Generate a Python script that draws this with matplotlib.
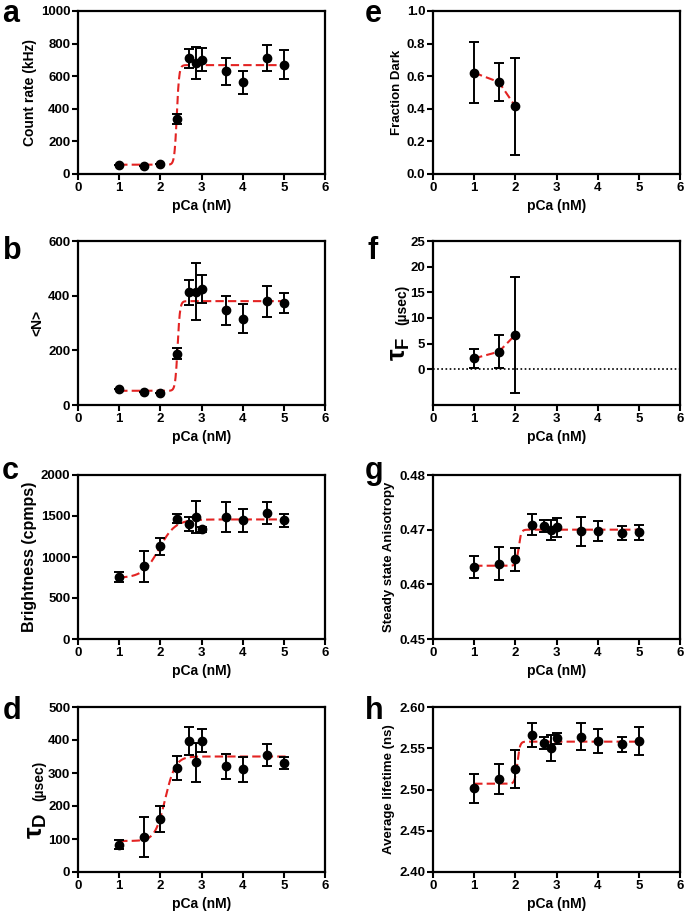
import numpy as np
import matplotlib
matplotlib.use('Agg')
import matplotlib.pyplot as plt
from matplotlib.ticker import FormatStrFormatter

plt.rcParams['font.family'] = ['Liberation Sans', 'DejaVu Sans']
plt.rcParams['font.weight'] = 'bold'
plt.rcParams['axes.labelweight'] = 'bold'
plt.rcParams['mathtext.fontset'] = 'custom'
plt.rcParams['mathtext.rm'] = 'Liberation Sans:bold'
plt.rcParams['mathtext.it'] = 'Liberation Sans:bold'
plt.rcParams['mathtext.bf'] = 'Liberation Sans:bold'

# pCa values
pca = [1.0, 1.6, 2.0, 2.4, 2.7, 2.87, 3.0, 3.6, 4.0, 4.6, 5.0]
pca_low = [1.0, 1.6, 2.0]

# a: count rate (kHz)
count_rate = [53, 49, 61, 339, 711, 683, 701, 630, 563, 711, 671]
count_rate_err = [0, 0, 0, 32, 58, 98, 71, 82, 70, 80, 87]
count_rate_fit = (57, 668, 2.40, 15)   # bottom, top, midpoint, hill

# b: <N>
n_mean = [60, 49, 44, 188, 412, 415, 424, 346, 316, 379, 373]
n_mean_err = [0, 0, 0, 21, 46, 103, 51, 53, 54, 57, 38]
n_mean_fit = (52, 380, 2.42, 15)

# c: brightness (cpmps)
brightness = [754, 885, 1131, 1467, 1398, 1488, 1336, 1488, 1447, 1533, 1447]
brightness_err = [62, 190, 105, 53, 85, 200, 35, 185, 137, 133, 82]
brightness_fit = (745, 1458, 1.97, 2.2)

# d: tau_D (usec)
tau_d = [83, 105, 160, 315, 398, 332, 398, 320, 311, 355, 329]
tau_d_err = [14, 61, 39, 37, 42, 60, 34, 39, 39, 33, 18]
tau_d_fit = (94, 350, 2.12, 3.5)

# e: fraction dark
frac_dark = [0.621, 0.564, 0.415]
frac_dark_err = [0.186, 0.116, 0.298]

# f: tau_F (usec)
tau_f = [2.1, 3.4, 6.7]
tau_f_err = [1.8, 3.2, 11.3]

# g: steady state anisotropy
anisotropy = [0.4631, 0.4638, 0.4646, 0.4709, 0.4706, 0.4700, 0.4704,
              0.4697, 0.4698, 0.4694, 0.4695]
anisotropy_err = [0.0020, 0.0030, 0.0021, 0.0019, 0.0011, 0.0018, 0.0018,
                  0.0026, 0.0018, 0.0013, 0.0013]
anisotropy_fit = (0.4634, 0.4700, 2.08, 14)

# h: average lifetime (ns)
lifetime = [2.5016, 2.513, 2.525, 2.5656, 2.5567, 2.550, 2.562, 2.564,
            2.5587, 2.555, 2.5587]
lifetime_err = [0.0175, 0.018, 0.023, 0.0146, 0.0073, 0.016, 0.0065,
                0.0166, 0.015, 0.009, 0.017]
lifetime_fit = (2.507, 2.558, 2.05, 14)

RED = '#e32322'
W, H = 685, 915


def sigmoid(x, p):
    bottom, top, x50, hill = p
    return bottom + (top - bottom) / (1 + 10 ** ((x50 - x) * hill))


def make_ax(left, top, right, bottom):
    return fig.add_axes([left / W, 1 - bottom / H, (right - left) / W, (bottom - top) / H])


def style(ax, ylim, yticks, ylabel, fmt=None, ysize=10):
    ax.set_xlim(0, 6)
    ax.set_xticks(range(7))
    ax.set_ylim(*ylim)
    ax.set_yticks(yticks)
    if fmt:
        ax.yaxis.set_major_formatter(FormatStrFormatter(fmt))
    for s in ax.spines.values():
        s.set_linewidth(1.6)
    ax.tick_params(width=1.5, length=4, labelsize=9.5, pad=1.5)
    for lab in ax.get_xticklabels() + ax.get_yticklabels():
        lab.set_fontweight('bold')
    ax.set_xlabel('pCa (nM)', fontsize=10, labelpad=4)
    if ylabel:
        ax.set_ylabel(ylabel, fontsize=ysize, labelpad=3)


def tau_label(ax, sub, x, y_tau, y_unit):
    # big tau with subscript, then smaller unit text on the same baseline
    ax.text(x, y_tau, r'$\tau_{\mathrm{%s}}$' % sub, transform=ax.transAxes,
            rotation=90, rotation_mode='anchor', fontsize=19,
            ha='left', va='baseline')
    ax.text(x, y_unit, '(µsec)', transform=ax.transAxes,
            rotation=90, rotation_mode='anchor', fontsize=10,
            ha='left', va='baseline')


def points(ax, x, y, err):
    ax.errorbar(x, y, yerr=err, fmt='o', color='black', ms=6,
                elinewidth=1.4, capsize=3.5, capthick=1.4, zorder=3)


def fit(ax, p):
    xs = np.linspace(1, 5.05, 400)
    ax.plot(xs, sigmoid(xs, p), '--', color=RED, lw=1.5, dashes=(4, 2), zorder=2)


fig = plt.figure(figsize=(6.85, 9.15), dpi=100)

rows = [(11, 174), (241, 405), (475, 639), (707, 872)]
lcol = (78, 325)
rcol = (433, 680)

# left column
ax = make_ax(lcol[0], rows[0][0], lcol[1], rows[0][1])
fit(ax, count_rate_fit)
points(ax, pca, count_rate, count_rate_err)
style(ax, (0, 1000), range(0, 1001, 200), 'Count rate (kHz)')

ax = make_ax(lcol[0], rows[1][0], lcol[1], rows[1][1])
fit(ax, n_mean_fit)
points(ax, pca, n_mean, n_mean_err)
style(ax, (0, 600), range(0, 601, 200), '<N>')

ax = make_ax(lcol[0], rows[2][0], lcol[1], rows[2][1])
fit(ax, brightness_fit)
points(ax, pca, brightness, brightness_err)
style(ax, (0, 2000), range(0, 2001, 500), 'Brightness (cpmps)', ysize=11.5)

ax = make_ax(lcol[0], rows[3][0], lcol[1], rows[3][1])
fit(ax, tau_d_fit)
points(ax, pca, tau_d, tau_d_err)
style(ax, (0, 500), range(0, 501, 100), None)
tau_label(ax, 'D', -0.142, 0.20, 0.43)

# right column
ax = make_ax(rcol[0], rows[0][0], rcol[1], rows[0][1])
ax.plot(pca_low, frac_dark, '--', color=RED, lw=1.5, dashes=(4, 2), zorder=2)
points(ax, pca_low, frac_dark, frac_dark_err)
style(ax, (0, 1), np.arange(0, 1.01, 0.2), 'Fraction Dark', fmt='%.1f', ysize=9.5)

ax = make_ax(rcol[0], rows[1][0], rcol[1], rows[1][1])
ax.axhline(0, color='black', lw=1.2, ls=(0, (1, 1.5)), zorder=1)
ax.plot(pca_low, tau_f, '--', color=RED, lw=1.5, dashes=(4, 2), zorder=2)
points(ax, pca_low, tau_f, tau_f_err)
style(ax, (-7, 25), range(0, 26, 5), None)
tau_label(ax, 'F', -0.11, 0.27, 0.49)

ax = make_ax(rcol[0], rows[2][0], rcol[1], rows[2][1])
fit(ax, anisotropy_fit)
points(ax, pca, anisotropy, anisotropy_err)
style(ax, (0.45, 0.48), [0.45, 0.46, 0.47, 0.48], 'Steady state Anisotropy',
      fmt='%.2f', ysize=9.5)

ax = make_ax(rcol[0], rows[3][0], rcol[1], rows[3][1])
fit(ax, lifetime_fit)
points(ax, pca, lifetime, lifetime_err)
style(ax, (2.40, 2.60), [2.40, 2.45, 2.50, 2.55, 2.60], 'Average lifetime (ns)',
      fmt='%.2f', ysize=9.5)

# panel letters
letters = [('a', 2, 22), ('b', 3, 259), ('c', 2, 479), ('d', 3, 719),
           ('e', 365, 22), ('f', 367, 259), ('g', 365, 479), ('h', 365, 719)]
for t, px, py in letters:
    fig.text(px / W, 1 - py / H, t, fontsize=22, fontweight='bold',
             va='baseline', ha='left')

fig.savefig('out.png', dpi=100)
